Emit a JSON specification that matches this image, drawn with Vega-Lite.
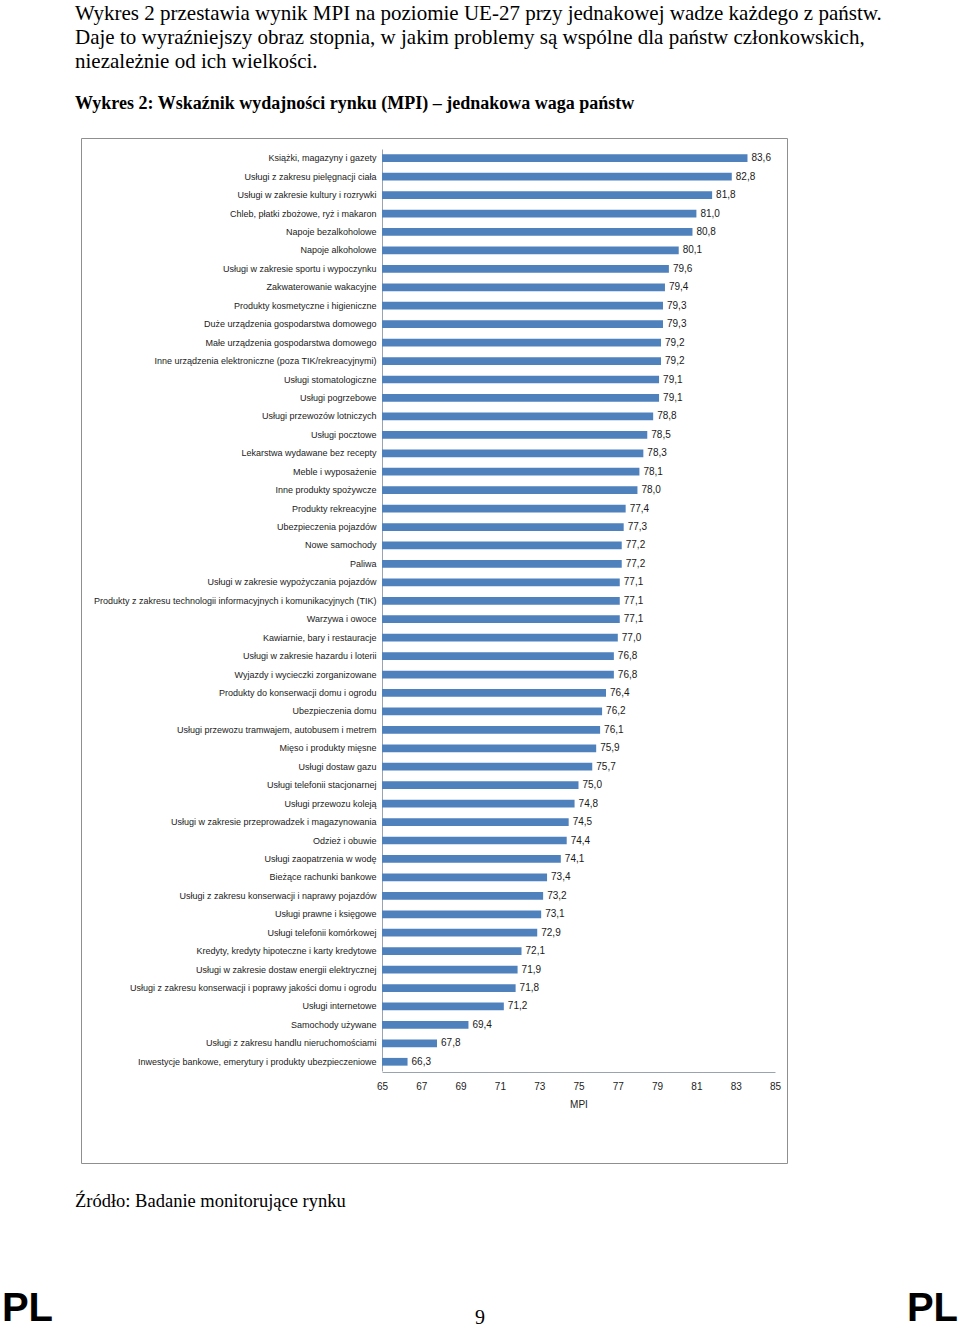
{
  "$schema": "https://vega.github.io/schema/vega-lite/v6.json",
  "width": 706,
  "height": 1025,
  "autosize": {"type": "none"},
  "padding": {"left": 81, "top": 138, "right": 173, "bottom": 167},
  "background": "white",
  "config": {
    "view": {"stroke": "#8f8f8f", "strokeWidth": 1},
    "locale": {"number": {"decimal": ",", "thousands": " ", "grouping": [3], "currency": ["", " zł"]}},
    "font": "Liberation Sans"
  },
  "title": {
    "text": [
      "Wykres 2 przestawia wynik MPI na poziomie UE-27 przy jednakowej wadze każdego z państw.",
      "Daje to wyraźniejszy obraz stopnia, w jakim problemy są wspólne dla państw członkowskich,",
      "niezależnie od ich wielkości."
    ],
    "subtitle": "Wykres 2: Wskaźnik wydajności rynku (MPI) – jednakowa waga państw",
    "anchor": "start",
    "frame": "group",
    "dx": -6,
    "offset": 25,
    "font": "Liberation Serif",
    "fontSize": 21,
    "fontWeight": "normal",
    "lineHeight": 24,
    "color": "#000000",
    "subtitleFont": "Liberation Serif",
    "subtitleFontSize": 18,
    "subtitleFontWeight": "bold",
    "subtitleColor": "#000000",
    "subtitlePadding": 23
  },
  "layer": [
    {
      "data": {"values": [
        {"kategoria": "Książki, magazyny i gazety", "mpi": 83.6},
        {"kategoria": "Usługi z zakresu pielęgnacji ciała", "mpi": 82.8},
        {"kategoria": "Usługi w zakresie kultury i rozrywki", "mpi": 81.8},
        {"kategoria": "Chleb, płatki zbożowe, ryż i makaron", "mpi": 81.0},
        {"kategoria": "Napoje bezalkoholowe", "mpi": 80.8},
        {"kategoria": "Napoje alkoholowe", "mpi": 80.1},
        {"kategoria": "Usługi w zakresie sportu i wypoczynku", "mpi": 79.6},
        {"kategoria": "Zakwaterowanie wakacyjne", "mpi": 79.4},
        {"kategoria": "Produkty kosmetyczne i higieniczne", "mpi": 79.3},
        {"kategoria": "Duże urządzenia gospodarstwa domowego", "mpi": 79.3},
        {"kategoria": "Małe urządzenia gospodarstwa domowego", "mpi": 79.2},
        {"kategoria": "Inne urządzenia elektroniczne (poza TIK/rekreacyjnymi)", "mpi": 79.2},
        {"kategoria": "Usługi stomatologiczne", "mpi": 79.1},
        {"kategoria": "Usługi pogrzebowe", "mpi": 79.1},
        {"kategoria": "Usługi przewozów lotniczych", "mpi": 78.8},
        {"kategoria": "Usługi pocztowe", "mpi": 78.5},
        {"kategoria": "Lekarstwa wydawane bez recepty", "mpi": 78.3},
        {"kategoria": "Meble i wyposażenie", "mpi": 78.1},
        {"kategoria": "Inne produkty spożywcze", "mpi": 78.0},
        {"kategoria": "Produkty rekreacyjne", "mpi": 77.4},
        {"kategoria": "Ubezpieczenia pojazdów", "mpi": 77.3},
        {"kategoria": "Nowe samochody", "mpi": 77.2},
        {"kategoria": "Paliwa", "mpi": 77.2},
        {"kategoria": "Usługi w zakresie wypożyczania pojazdów", "mpi": 77.1},
        {"kategoria": "Produkty z zakresu technologii informacyjnych i komunikacyjnych (TIK)", "mpi": 77.1},
        {"kategoria": "Warzywa i owoce", "mpi": 77.1},
        {"kategoria": "Kawiarnie, bary i restauracje", "mpi": 77.0},
        {"kategoria": "Usługi w zakresie hazardu i loterii", "mpi": 76.8},
        {"kategoria": "Wyjazdy i wycieczki zorganizowane", "mpi": 76.8},
        {"kategoria": "Produkty do konserwacji domu i ogrodu", "mpi": 76.4},
        {"kategoria": "Ubezpieczenia domu", "mpi": 76.2},
        {"kategoria": "Usługi przewozu tramwajem, autobusem i metrem", "mpi": 76.1},
        {"kategoria": "Mięso i produkty mięsne", "mpi": 75.9},
        {"kategoria": "Usługi dostaw gazu", "mpi": 75.7},
        {"kategoria": "Usługi telefonii stacjonarnej", "mpi": 75.0},
        {"kategoria": "Usługi przewozu koleją", "mpi": 74.8},
        {"kategoria": "Usługi w zakresie przeprowadzek i magazynowania", "mpi": 74.5},
        {"kategoria": "Odzież i obuwie", "mpi": 74.4},
        {"kategoria": "Usługi zaopatrzenia w wodę", "mpi": 74.1},
        {"kategoria": "Bieżące rachunki bankowe", "mpi": 73.4},
        {"kategoria": "Usługi z zakresu konserwacji i naprawy pojazdów", "mpi": 73.2},
        {"kategoria": "Usługi prawne i księgowe", "mpi": 73.1},
        {"kategoria": "Usługi telefonii komórkowej", "mpi": 72.9},
        {"kategoria": "Kredyty, kredyty hipoteczne i karty kredytowe", "mpi": 72.1},
        {"kategoria": "Usługi w zakresie dostaw energii elektrycznej", "mpi": 71.9},
        {"kategoria": "Usługi z zakresu konserwacji i poprawy jakości domu i ogrodu", "mpi": 71.8},
        {"kategoria": "Usługi internetowe", "mpi": 71.2},
        {"kategoria": "Samochody używane", "mpi": 69.4},
        {"kategoria": "Usługi z zakresu handlu nieruchomościami", "mpi": 67.8},
        {"kategoria": "Inwestycje bankowe, emerytury i produkty ubezpieczeniowe", "mpi": 66.3}
      ]},
      "encoding": {
        "y": {
          "field": "kategoria",
          "type": "nominal",
          "sort": null,
          "scale": {"range": [11, 933], "paddingInner": 0.58, "paddingOuter": 0.29},
          "axis": {
            "orient": "left",
            "offset": -301,
            "title": null,
            "ticks": false,
            "grid": false,
            "domainColor": "#9aa3b0",
            "labelFont": "Liberation Sans",
            "labelFontSize": 9,
            "labelColor": "#222222",
            "labelPadding": 6,
            "labelLimit": 400
          }
        },
        "x": {
          "field": "mpi",
          "type": "quantitative",
          "scale": {"domain": [65, 85], "range": [301, 694], "nice": false, "zero": false},
          "axis": {
            "orient": "bottom",
            "offset": -91,
            "values": [65, 67, 69, 71, 73, 75, 77, 79, 81, 83, 85],
            "format": "d",
            "ticks": false,
            "grid": false,
            "labelFlush": false,
            "labelOverlap": false,
            "domainColor": "#9aa3b0",
            "labelFont": "Liberation Sans",
            "labelFontSize": 10,
            "labelColor": "#222222",
            "labelPadding": 9,
            "title": "MPI",
            "titleFont": "Liberation Sans",
            "titleFontSize": 10,
            "titleFontWeight": "normal",
            "titleColor": "#222222",
            "titlePadding": 8
          }
        }
      },
      "layer": [
        {
          "mark": {"type": "bar", "color": "#4F81BD"},
          "encoding": {"x2": {"datum": 65}}
        },
        {
          "mark": {"type": "text", "align": "left", "baseline": "middle", "dx": 4, "fontSize": 10, "font": "Liberation Sans", "color": "#1a1a1a"},
          "encoding": {"text": {"field": "mpi", "type": "quantitative", "format": ".1f"}}
        }
      ]
    },
    {
      "data": {"values": [{"zrodlo": "Źródło: Badanie monitorujące rynku"}]},
      "mark": {"type": "text", "align": "left", "baseline": "alphabetic", "font": "Liberation Serif", "fontSize": 18.5, "color": "#000000"},
      "encoding": {
        "text": {"field": "zrodlo", "type": "nominal"},
        "x": {"field": "zrodlo", "type": "nominal", "scale": {"type": "point", "range": [-6, -6]}, "axis": null},
        "y": {"field": "zrodlo", "type": "nominal", "scale": {"type": "point", "range": [1069, 1069]}, "axis": null}
      }
    },
    {
      "data": {"values": [{"kod": "PL", "strona": "lewa"}, {"kod": "PL", "strona": "prawa"}]},
      "mark": {"type": "text", "align": "center", "baseline": "alphabetic", "font": "Liberation Sans", "fontWeight": "bold", "fontSize": 40, "color": "#000000"},
      "encoding": {
        "text": {"field": "kod", "type": "nominal"},
        "x": {"field": "strona", "type": "nominal", "scale": {"type": "point", "domain": ["lewa", "prawa"], "range": [-53.5, 851.5], "padding": 0}, "axis": null},
        "y": {"field": "kod", "type": "nominal", "scale": {"type": "point", "range": [1183, 1183]}, "axis": null}
      }
    },
    {
      "data": {"values": [{"strona": "9"}]},
      "mark": {"type": "text", "align": "center", "baseline": "alphabetic", "font": "Liberation Serif", "fontSize": 20, "color": "#000000"},
      "encoding": {
        "text": {"field": "strona", "type": "nominal"},
        "x": {"field": "strona", "type": "nominal", "scale": {"type": "point", "range": [399, 399]}, "axis": null},
        "y": {"field": "strona", "type": "nominal", "scale": {"type": "point", "range": [1186, 1186]}, "axis": null}
      }
    }
  ],
  "resolve": {"scale": {"x": "independent", "y": "independent"}}
}
